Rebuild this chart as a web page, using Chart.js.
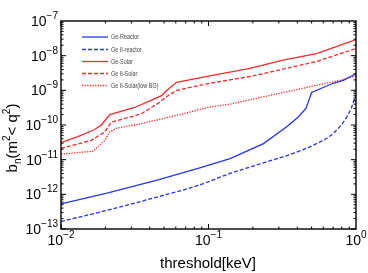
<!DOCTYPE html>
<html>
<head>
<meta charset="utf-8">
<script src="https://cdn.jsdelivr.net/npm/chart.js@4.4.1/dist/chart.umd.min.js"></script>
<style>
  html, body { margin: 0; padding: 0; background: #fff; }
  #wrap { width: 368px; height: 273px; }
</style>
</head>
<body>
<div id="wrap"><canvas id="bnChart" width="368" height="273"></canvas></div>
<script>
// values (threshold in keV, b_n)
const reactorX = [0.01, 0.0208, 0.0455, 0.085, 0.14, 0.236, 0.339, 0.406, 0.458, 0.5, 0.7, 0.82, 1.0];
const reactorY = [5.3e-13, 1.1e-12, 2.6e-12, 5.6e-12, 1.07e-11, 2.9e-11, 8.9e-11, 1.7e-10, 3.0e-10, 8.7e-10, 1.6e-9, 1.95e-9, 3.0e-9];

const reactor2X = [0.01, 0.0208, 0.0455, 0.085, 0.14, 0.236, 0.396, 0.54, 0.7, 0.84, 0.935, 1.0];
const reactor2Y = [1.65e-13, 3.5e-13, 8.5e-13, 1.8e-12, 4.0e-12, 8.1e-12, 1.65e-11, 2.9e-11, 5.7e-11, 1.4e-10, 3.3e-10, 7.5e-10];

const solarX = [0.01, 0.013, 0.0169, 0.0188, 0.0214, 0.0316, 0.043, 0.048, 0.053, 0.0608, 0.102, 0.191, 0.32, 0.54, 1.0];
const solarY = [3.1e-11, 4.6e-11, 7.4e-11, 1.0e-10, 2.0e-10, 3.2e-10, 5.7e-10, 7.0e-10, 1.05e-9, 1.7e-9, 2.6e-9, 4.3e-9, 7.4e-9, 1.15e-8, 2.9e-8];

const solar2X = [0.01, 0.016, 0.0198, 0.0219, 0.035, 0.0455, 0.0518, 0.0608, 0.102, 0.2, 0.54, 1.0];
const solar2Y = [2.1e-11, 3.6e-11, 6.3e-11, 1.2e-10, 2.1e-10, 4.2e-10, 6.5e-10, 1.0e-9, 1.6e-9, 2.6e-9, 6.8e-9, 1.6e-8];

const lowBgX = [0.01, 0.0165, 0.0198, 0.0214, 0.0237, 0.035, 0.053, 0.0608, 0.102, 0.14, 0.396, 0.78, 1.0];
const lowBgY = [1.45e-11, 1.75e-11, 3.6e-11, 6.3e-11, 8e-11, 1.1e-10, 1.65e-10, 1.9e-10, 3.3e-10, 4.0e-10, 1.05e-9, 1.95e-9, 2.6e-9];

const seriesNames = ["Ge-Reactor", "Ge II-reactor", "Ge-Solar", "Ge II-Solar", "Ge II-Solar(low BG)"];
const xTickExps = [-2, -1, 0];
const yTickExps = [-13, -12, -11, -10, -9, -8, -7];

const BLUE = "#2536ee";
const RED = "#f52a2a";
const FONT = "'Liberation Sans', Arial, sans-serif";

const pts = (xs, ys) => xs.map((x, i) => ({ x: x, y: ys[i] }));

function ds(label, xs, ys, color, dash, smooth) {
  return {
    label: label,
    data: pts(xs, ys),
    borderColor: color,
    borderWidth: 1.3,
    borderDash: dash,
    pointRadius: 0,
    fill: false,
    cubicInterpolationMode: smooth ? "monotone" : "default",
    tension: 0,
  };
}

// draw text with a raised/lowered piece, e.g. 10^-7
function drawPieces(ctx, pieces, x, y, align) {
  let total = 0;
  pieces.forEach(p => { ctx.font = p.size + "px " + FONT; total += ctx.measureText(p.t).width; });
  let cx = align === "right" ? x - total : align === "center" ? x - total / 2 : x;
  ctx.textAlign = "left";
  pieces.forEach(p => {
    ctx.font = p.size + "px " + FONT;
    ctx.fillText(p.t, cx, y - (p.dy || 0));
    cx += ctx.measureText(p.t).width;
  });
}

const frameAndLabels = {
  id: "frameAndLabels",
  afterDraw(chart) {
    const ctx = chart.ctx;
    const a = chart.chartArea;
    const xs = chart.scales.x, ys = chart.scales.y;
    ctx.save();
    ctx.strokeStyle = "#000";
    ctx.lineWidth = 1.4;
    ctx.strokeRect(a.left, a.top, a.right - a.left, a.bottom - a.top);

    // inward ticks on all four sides
    ctx.lineWidth = 1;
    ctx.beginPath();
    for (let e = -2; e < 0; e++) {
      for (let m = 1; m <= 9; m++) {
        const px = xs.getPixelForValue(m * Math.pow(10, e));
        const len = m === 1 ? 5 : 2.5;
        ctx.moveTo(px, a.bottom); ctx.lineTo(px, a.bottom - len);
        ctx.moveTo(px, a.top); ctx.lineTo(px, a.top + len);
      }
    }
    for (let e = -13; e < -7; e++) {
      for (let m = 1; m <= 9; m++) {
        const py = ys.getPixelForValue(m * Math.pow(10, e));
        const len = m === 1 ? 5 : 2.5;
        ctx.moveTo(a.left, py); ctx.lineTo(a.left + len, py);
        ctx.moveTo(a.right, py); ctx.lineTo(a.right - len, py);
      }
    }
    ctx.stroke();

    ctx.fillStyle = "#000";
    ctx.textBaseline = "alphabetic";
    // y tick labels
    yTickExps.forEach(e => {
      const py = ys.getPixelForValue(Math.pow(10, e));
      drawPieces(ctx, [{ t: "10", size: 14 }, { t: "\u2212" + Math.abs(e), size: 10, dy: 7 }], a.left - 3, py + 5, "right");
    });
    // x tick labels
    xTickExps.forEach(e => {
      const px = xs.getPixelForValue(Math.pow(10, e));
      const ex = e === 0 ? "0" : "\u2212" + Math.abs(e);
      drawPieces(ctx, [{ t: "10", size: 14 }, { t: ex, size: 10, dy: 7 }], px, a.bottom + 16, "center");
    });

    // axis titles
    drawPieces(ctx, [{ t: "threshold[keV]", size: 15 }], 208, 268, "center");
    ctx.save();
    ctx.translate(17, 138);
    ctx.rotate(-Math.PI / 2);
    drawPieces(ctx, [
      { t: "b", size: 15 }, { t: "n", size: 10, dy: -4 },
      { t: "(m", size: 15 }, { t: "2", size: 10, dy: 7 },
      { t: "< q", size: 15 }, { t: "2", size: 10, dy: 7 },
      { t: ")", size: 15 },
    ], 0, 0, "center");
    ctx.restore();

    // legend inside the plot
    const rows = [37, 49.5, 61.5, 73.5, 85.5];
    chart.data.datasets.forEach((d, i) => {
      ctx.save();
      ctx.strokeStyle = d.borderColor;
      ctx.lineWidth = 1.3;
      ctx.setLineDash(d.borderDash || []);
      ctx.beginPath();
      ctx.moveTo(82, rows[i]);
      ctx.lineTo(108, rows[i]);
      ctx.stroke();
      ctx.restore();
      ctx.save();
      ctx.fillStyle = "#444";
      ctx.font = "6.8px " + FONT;
      ctx.translate(111, rows[i] + 2.4);
      ctx.scale(0.8, 1);
      ctx.textAlign = "left";
      ctx.fillText(d.label, 0, 0);
      ctx.restore();
    });
    ctx.restore();
  },
};

new Chart(document.getElementById("bnChart"), {
  type: "line",
  data: {
    datasets: [
      ds(seriesNames[0], reactorX, reactorY, BLUE, [], false),
      ds(seriesNames[1], reactor2X, reactor2Y, BLUE, [4, 2], true),
      ds(seriesNames[2], solarX, solarY, RED, [], false),
      ds(seriesNames[3], solar2X, solar2Y, RED, [4, 2], false),
      ds(seriesNames[4], lowBgX, lowBgY, RED, [1.3, 1.3], false),
    ],
  },
  options: {
    responsive: false,
    animation: false,
    layout: { padding: { left: 61, right: 12, top: 21, bottom: 44 } },
    plugins: { legend: { display: false }, tooltip: { enabled: false } },
    scales: {
      x: { type: "logarithmic", min: 0.01, max: 1, display: false },
      y: { type: "logarithmic", min: 1e-13, max: 1e-7, display: false },
    },
  },
  plugins: [frameAndLabels],
});
</script>
</body>
</html>
